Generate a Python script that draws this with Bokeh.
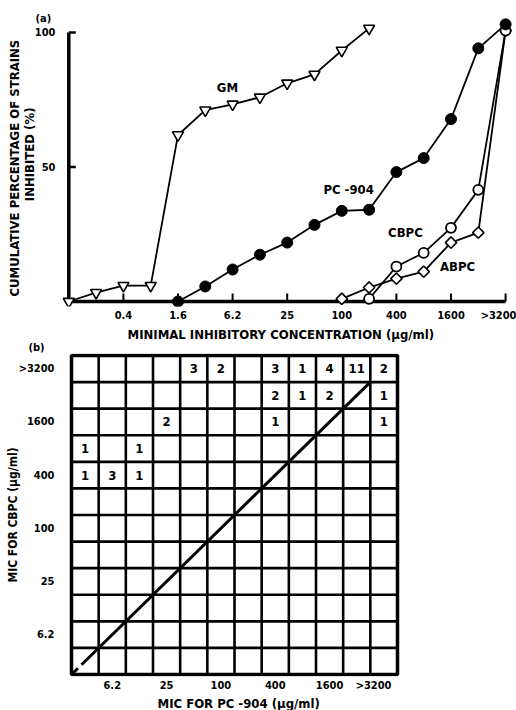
import math
from bokeh.plotting import figure
from bokeh.models import FixedTicker, Range1d, Title
from bokeh.layouts import column
from bokeh.embed import file_html
from bokeh.resources import INLINE
from bokeh.core.properties import value

FONT = "DejaVu Sans Condensed"
NB = "\u00a0"

# ---------------- Panel (a) data ----------------
conc_steps = ["0.1", "0.2", "0.4", "0.8", "1.6", "3.1", "6.2", "12.5", "25", "50",
              "100", "200", "400", "800", "1600", "3200", ">3200"]
top_tick_labels = ["0.4", "1.6", "6.2", "25", "100", "400", "1600", ">3200"]
top_y_ticks = [50, 100]

gm_steps = conc_steps[0:12]
gm_pct = [0, 3.3, 5.9, 5.9, 61.9, 71.1, 73.3, 75.9, 81.1, 84.4, 93.3, 101.5]

pc904_steps = conc_steps[4:17]
pc904_pct = [0, 5.6, 11.9, 17.4, 21.9, 28.5, 33.7, 34.1, 48.1, 53.3, 67.8, 94.1, 103]

cbpc_steps = conc_steps[11:17]
cbpc_pct = [1, 13, 18.1, 27.4, 41.5, 100.7]

abpc_steps = conc_steps[10:17]
abpc_pct = [1, 5.2, 8.5, 11.1, 21.9, 25.6, 100.7]

series_names = ["GM", "PC -904", "CBPC", "ABPC"]
series_label_x = [5.81, 10.25, 12.33, 14.24]
series_label_y = [79.6, 41.5, 25.6, 13.0]

# ---------------- Panel (b) data ----------------
mic_levels = ["3.1", "6.2", "12.5", "25", "50", "100", "200", "400", "800",
              "1600", "3200", ">3200"]
grid_tick_labels = ["6.2", "25", "100", "400", "1600", ">3200"]
cbpc_mic = [">3200", ">3200", ">3200", ">3200", ">3200", ">3200", ">3200",
            "3200", "3200", "3200", "3200",
            "1600", "1600", "1600",
            "800", "800",
            "400", "400", "400"]
pc904_mic = ["50", "100", "400", "800", "1600", "3200", ">3200",
             "400", "800", "1600", ">3200",
             "25", "400", ">3200",
             "3.1", "12.5",
             "3.1", "6.2", "12.5"]
n_strains = [3, 2, 3, 1, 4, 11, 2,
             2, 1, 2, 1,
             2, 1, 1,
             1, 1,
             1, 3, 1]


def idx(lst, items):
    return [lst.index(s) for s in items]


def style_axis(ax, label_size="11px", title_size="13px"):
    ax.axis_line_color = None
    ax.major_tick_line_color = None
    ax.minor_tick_line_color = None
    ax.major_tick_out = 0
    ax.major_tick_in = 0
    ax.minor_tick_out = 0
    ax.minor_tick_in = 0
    ax.major_label_text_font = FONT
    ax.major_label_text_font_style = "bold"
    ax.major_label_text_font_size = label_size
    ax.major_label_text_color = "black"
    ax.axis_label_text_font = FONT
    ax.axis_label_text_font_style = "bold"
    ax.axis_label_text_font_size = title_size
    ax.axis_label_text_color = "black"


def make_title(text, size="13px", **kw):
    return Title(text=text, text_font=FONT, text_font_style="bold",
                 text_font_size=size, text_color="black", **kw)


LEFT, RIGHT = 58, 1
FRAME_W = 516 - LEFT - RIGHT

# ================= figure (a) =================
PX = 27.3          # px per concentration step
PY = 2.7           # px per percent
X0_PX = 68.3       # pixel of the first step
Y0_PX = 302        # pixel of 0 %
H1, TOP1, BOT1 = 342, 16, 35
x_start = -(X0_PX - LEFT) / PX
p1 = figure(width=516, height=H1, output_backend="svg", toolbar_location=None,
            x_range=Range1d(x_start, x_start + FRAME_W / PX),
            y_range=Range1d(-(H1 - BOT1 - Y0_PX) / PY, (Y0_PX - TOP1) / PY),
            min_border_left=LEFT, min_border_right=RIGHT, min_border_top=TOP1,
            min_border_bottom=BOT1)
p1.outline_line_color = None
p1.grid.visible = False
p1.background_fill_color = "white"
p1.border_fill_color = "white"

xt = idx(conc_steps, top_tick_labels)
xmax = len(conc_steps) - 1
# axis lines and inward ticks
p1.segment(x0=[0, 0], y0=[0, 0], x1=[xmax, 0], y1=[0, max(top_y_ticks)],
           line_width=3.5, line_color="black")
p1.segment(x0=xt, y0=[0] * len(xt), x1=xt, y1=[8 / PY] * len(xt),
           line_width=2, line_color="black")
p1.segment(x0=[0] * len(top_y_ticks), y0=top_y_ticks,
           x1=[7 / PX] * len(top_y_ticks), y1=top_y_ticks,
           line_width=2.5, line_color="black")

series = [(gm_steps, gm_pct), (pc904_steps, pc904_pct),
          (cbpc_steps, cbpc_pct), (abpc_steps, abpc_pct)]
for steps, pct in series:
    p1.line(idx(conc_steps, steps), pct, line_width=1.8, line_color="black")

p1.scatter(idx(conc_steps, abpc_steps), abpc_pct, marker="square", angle=math.pi / 4,
           size=8, fill_color="white", line_color="black", line_width=1.6)
p1.scatter(idx(conc_steps, cbpc_steps), cbpc_pct, marker="circle", size=10,
           fill_color="white", line_color="black", line_width=1.8)
p1.scatter(idx(conc_steps, gm_steps), gm_pct, marker="inverted_triangle", size=11,
           fill_color="white", line_color="black", line_width=1.6)
p1.scatter(idx(conc_steps, pc904_steps), pc904_pct, marker="circle", size=11,
           fill_color="black", line_color="black", line_width=1)

p1.text(x=series_label_x, y=series_label_y, text=series_names, text_font=value(FONT),
        text_font_style="bold", text_font_size="13px", text_align="center",
        text_baseline="middle", text_color="black")

p1.xaxis.ticker = FixedTicker(ticks=xt)
p1.xaxis.major_label_overrides = {t: lab for t, lab in zip(xt, top_tick_labels)}
p1.yaxis.ticker = FixedTicker(ticks=top_y_ticks)
style_axis(p1.xaxis)
style_axis(p1.yaxis)
p1.xaxis.major_label_standoff = 2
p1.yaxis.major_label_standoff = 3

p1.add_layout(make_title("MINIMAL INHIBITORY CONCENTRATION (\u03bcg/ml)", align="left",
                         offset=69, vertical_align="bottom", standoff=1), "below")
p1.add_layout(make_title("INHIBITED (%)", align="right", offset=91,
                         vertical_align="bottom", standoff=-11), "left")
p1.add_layout(make_title("CUMULATIVE PERCENTAGE OF STRAINS", align="left", offset=10,
                         vertical_align="bottom", standoff=7), "left")
p1.add_layout(make_title("(a)", size="11px", align="left", offset=-23,
                         vertical_align="bottom", standoff=-16), "above")

# ================= figure (b) =================
n = len(mic_levels)
CX = 326 / n       # px per column
CY = 319 / n       # px per row
GRID_LEFT_PX = 71
H2 = 710 - H1
gx0 = -(GRID_LEFT_PX - LEFT) / CX
p2 = figure(width=516, height=H2, output_backend="svg", toolbar_location=None,
            x_range=Range1d(gx0, gx0 + FRAME_W / CX),
            y_range=Range1d(-2 / CY, n + 2 / CY),
            min_border_left=LEFT, min_border_right=RIGHT, min_border_top=11,
            min_border_bottom=34)
p2.background_fill_color = "white"
p2.border_fill_color = "white"
p2.outline_line_color = None
p2.grid.visible = False

edges = list(range(1, n))
p2.segment(x0=edges, y0=[0] * len(edges), x1=edges, y1=[n] * len(edges),
           line_width=2.6, line_color="black")
p2.segment(x0=[0] * len(edges), y0=edges, x1=[n] * len(edges), y1=edges,
           line_width=2.6, line_color="black")
p2.quad(left=[0], right=[n], bottom=[0], top=[n], fill_color=None,
        line_color="black", line_width=3.5)

p2.line(x=[0, n - 1], y=[0, n - 1], line_width=3, line_color="black",
        line_dash="9 5 1000 1")

cx = [mic_levels.index(s) + 0.5 for s in pc904_mic]
cy = [mic_levels.index(s) + 0.5 for s in cbpc_mic]
p2.text(x=cx, y=cy, text=[str(v) for v in n_strains], text_font=value(FONT),
        text_font_style="bold", text_font_size="13px", text_align="center",
        text_baseline="middle", text_color="black")

gt = [mic_levels.index(s) + 0.5 for s in grid_tick_labels]
p2.xaxis.ticker = FixedTicker(ticks=gt)
p2.yaxis.ticker = FixedTicker(ticks=gt)
p2.xaxis.major_label_overrides = {
    t: (lab if lab != ">3200" else lab + NB * 6) for t, lab in zip(gt, grid_tick_labels)
}
p2.yaxis.major_label_overrides = {t: lab for t, lab in zip(gt, grid_tick_labels)}
style_axis(p2.xaxis)
style_axis(p2.yaxis)
p2.xaxis.major_label_standoff = 2
p2.yaxis.major_label_standoff = 4

p2.add_layout(make_title("MIC FOR CBPC (\u03bcg/ml)", size="12px", align="center",
                         vertical_align="bottom", standoff=-8), "left")
p2.add_layout(make_title("MIC FOR PC -904 (\u03bcg/ml)", align="left", offset=99,
                         vertical_align="bottom", standoff=-1), "below")
p2.add_layout(make_title("(b)", size="11px", align="left", offset=-30,
                         vertical_align="top", standoff=-5), "above")

layout = column(p1, p2, spacing=0)
open("out.html", "w").write(file_html(layout, INLINE))
